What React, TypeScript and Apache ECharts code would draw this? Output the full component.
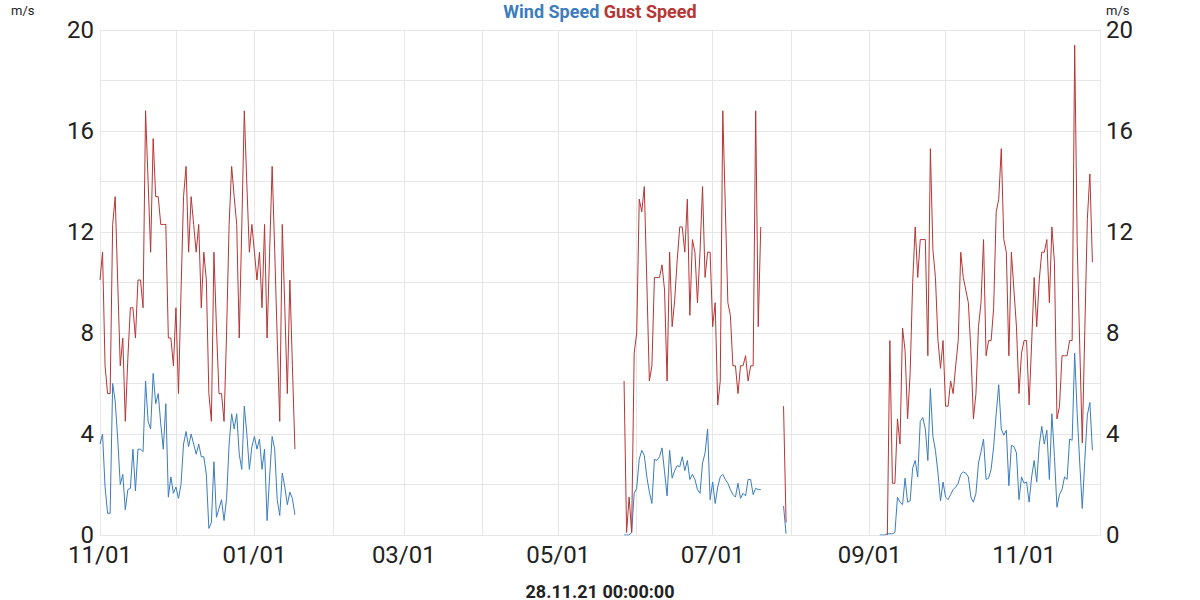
import { useEffect, useRef } from 'react';
import * as echarts from 'echarts';

const BLUE = '#3b7dbd';
const RED = '#b73535';
const GRID = '#e6e6e6';
const DAY = 86400000;

// segment 1 starts 01.11.2020
const seg1Start = [2020, 10, 1];
const wind1 = [
  3.6, 4.0, 1.9, 0.86, 0.86, 6.0, 5.3, 3.8, 2.0, 2.4,
  1.0, 1.8, 1.85, 3.4, 1.75, 3.4, 3.4, 3.3, 6.1, 4.5,
  4.2, 6.4, 5.2, 5.6, 4.4, 3.4, 5.2, 1.5, 2.3, 1.65,
  1.9, 1.45, 2.0, 3.6, 4.1, 3.5, 4.0, 3.6, 3.2, 3.6,
  3.1, 3.1, 2.4, 0.26, 0.5, 2.9, 0.7, 1.05, 1.4, 0.57,
  1.45, 3.6, 4.8, 4.2, 4.8, 3.2, 2.6, 5.1, 4.0, 2.6,
  3.5, 3.9, 3.4, 3.8, 2.6, 3.4, 0.57, 2.3, 3.9, 3.4,
  1.4, 0.77, 2.45, 1.9, 1.2, 1.7, 1.45, 0.8,
];
const gust1 = [
  10.1, 11.2, 6.7, 5.6, 5.6, 12.3, 13.4, 10.0, 6.7, 7.8,
  4.5, 7.0, 9.0, 9.0, 7.8, 10.1, 10.1, 9.0, 16.8, 14.0,
  11.2, 15.7, 13.4, 13.4, 12.3, 12.3, 12.3, 7.8, 7.8, 6.7,
  9.0, 5.6, 9.6, 13.4, 14.6, 11.2, 13.4, 12.3, 11.2, 12.3,
  9.0, 11.2, 10.1, 5.6, 4.5, 11.2, 8.2, 5.6, 5.6, 4.5,
  8.0, 12.3, 14.6, 13.4, 12.3, 7.8, 12.2, 16.8, 13.9, 11.2,
  12.3, 11.2, 10.1, 11.2, 9.0, 12.3, 7.8, 11.2, 14.6, 11.3,
  7.8, 4.5, 12.3, 9.0, 5.6, 10.1, 6.7, 3.4,
];

// segment 2 starts 27.05.2021
const seg2Start = [2021, 4, 27];
const wind2 = [
  0, 0, 0, 0.1, 1.65, 1.85, 3.0, 3.35, 3.15, 2.3,
  1.7, 1.25, 3.0, 2.95, 3.1, 3.45, 2.5, 1.55, 3.35, 2.25,
  2.55, 2.75, 2.7, 3.1, 2.55, 2.95, 2.2, 2.4, 2.2, 1.8,
  1.65, 2.85, 3.25, 4.2, 1.4, 2.1, 1.25, 1.9, 2.3, 2.4,
  2.2, 2.05, 1.8, 1.6, 1.5, 2.05, 1.45, 1.65, 1.55, 2.2,
  2.2, 1.6, 1.85, 1.8, 1.8,
  null, null, null, null, null, null, null, null,
  1.15, 0.05,
];
const gust2 = [
  6.1, 0.1, 1.5, 0.1, 7.2, 8.0, 13.3, 12.8, 13.8, 10.0,
  6.1, 6.7, 10.2, 10.2, 10.2, 10.7, 9.7, 6.1, 11.2, 8.25,
  9.3, 10.9, 12.2, 12.2, 11.2, 13.3, 8.7, 11.7, 11.2, 9.2,
  11.2, 13.8, 10.2, 11.2, 11.2, 8.25, 9.2, 5.15, 6.1, 16.8,
  13.0, 9.2, 8.7, 6.7, 6.7, 5.6, 6.7, 6.7, 7.1, 6.1,
  6.7, 6.7, 16.8, 8.25, 12.2,
  null, null, null, null, null, null, null, null,
  5.1, 0.5,
];

// segment 3 starts 05.09.2021
const seg3Start = [2021, 8, 5];
const wind3 = [
  0, 0, 0, 0.05, 0.05, 0.05, 0.1, 1.5, 1.3, 1.2,
  2.25, 1.3, 1.35, 2.65, 2.95, 2.3, 4.5, 4.65, 4.2, 2.95,
  5.8, 3.9, 3.35, 2.45, 1.35, 2.1, 1.5, 1.4, 1.6, 1.8,
  1.9, 2.05, 2.4, 2.5, 2.45, 2.3, 1.5, 1.3, 1.65, 2.85,
  3.3, 3.8, 2.2, 2.25, 2.6, 3.5, 4.8, 5.95, 4.2, 3.95,
  4.15, 1.95, 3.55, 3.5, 3.25, 1.4, 2.3, 2.05, 2.1, 1.3,
  2.3, 2.95, 2.1, 3.55, 4.3, 3.6, 4.15, 2.2, 4.8, 3.1,
  1.1, 1.6, 1.8, 2.3, 2.2, 3.8, 3.75, 7.2, 4.8, 2.85,
  1.05, 2.95, 4.75, 5.25, 3.35,
];
const gust3 = [
  null, null, null, 0, 7.7, 2.05, 2.05, 4.6, 3.6, 8.2,
  7.3, 4.6, 6.4, 10.0, 12.2, 10.2, 11.7, 11.7, 11.7, 7.1,
  15.3, 11.3, 10.2, 7.7, 6.6, 7.7, 5.1, 5.1, 6.1, 5.6,
  6.7, 7.7, 11.2, 10.2, 9.7, 9.2, 7.3, 4.6, 5.6, 8.25,
  9.2, 11.7, 7.1, 7.7, 7.7, 9.0, 12.8, 13.3, 15.3, 11.7,
  11.2, 7.1, 11.2, 9.7, 8.25, 5.6, 7.2, 7.7, 7.7, 5.15,
  7.6, 10.2, 8.25, 10.1, 11.2, 11.2, 11.7, 9.2, 12.2, 10.8,
  4.6, 5.1, 7.1, 7.1, 7.1, 7.7, 7.7, 19.4, 11.5, 7.5,
  3.65, 8.1, 12.5, 14.3, 10.8,
];

const yTicks = [0, 4, 8, 12, 16, 20];

function segment(start: number[], values: (number | null)[]) {
  const pts: [number, number | string][] = values.map((v, i) => [
    new Date(start[0], start[1], start[2] + i).getTime(),
    v === null ? '-' : v,
  ]);
  // break the line after the segment
  pts.push([new Date(start[0], start[1], start[2] + values.length).getTime(), '-']);
  return pts;
}

const pad = (n: number) => (n < 10 ? '0' + n : String(n));

export default function App() {
  const chartRef = useRef<HTMLDivElement>(null);

  useEffect(() => {
    if (!chartRef.current) {
      return;
    }
    const chart = echarts.init(chartRef.current, null, { renderer: 'svg' });

    const windData = [
      ...segment(seg1Start, wind1),
      ...segment(seg2Start, wind2),
      ...segment(seg3Start, wind3),
    ];
    const gustData = [
      ...segment(seg1Start, gust1),
      ...segment(seg2Start, gust2),
      ...segment(seg3Start, gust3),
    ];

    const yLabel = {
      fontSize: 24,
      color: '#222',
      fontFamily: 'Roboto',
      margin: 6,
      formatter: (v: number) => (yTicks.includes(v) ? String(v) : ''),
    };

    chart.setOption({
      animation: false,
      textStyle: { fontFamily: 'Roboto' },
      title: [
        {
          text: '{a|Wind Speed} {b|Gust Speed}',
          left: 'center',
          top: 2,
          padding: 0,
          textStyle: {
            rich: {
              a: { color: BLUE, fontWeight: 'bold', fontSize: 18, fontFamily: 'Roboto' },
              b: { color: RED, fontWeight: 'bold', fontSize: 18, fontFamily: 'Roboto' },
            },
          },
        },
        {
          text: '28.11.21 00:00:00',
          left: 'center',
          top: 582,
          padding: 0,
          textStyle: { color: '#222', fontWeight: 'bold', fontSize: 18, fontFamily: 'Roboto' },
        },
      ],
      graphic: [
        {
          type: 'text',
          left: 11,
          top: 4,
          style: { text: 'm/s', fontSize: 13, fill: '#222', fontFamily: 'Roboto' },
        },
        {
          type: 'text',
          left: 1106,
          top: 4,
          style: { text: 'm/s', fontSize: 13, fill: '#222', fontFamily: 'Roboto' },
        },
      ],
      grid: { left: 100, right: 100, top: 30, bottom: 65, containLabel: false },
      xAxis: {
        type: 'time',
        min: new Date(2020, 10, 1).getTime(),
        max: new Date(2021, 11, 1).getTime(),
        splitNumber: 13,
        minInterval: 28 * DAY,
        maxInterval: 31 * DAY,
        axisLine: { show: true, lineStyle: { color: GRID } },
        axisTick: { show: false },
        splitLine: { show: true, lineStyle: { color: GRID } },
        axisLabel: {
          fontSize: 24,
          color: '#222',
          fontFamily: 'Roboto',
          margin: 8,
          hideOverlap: false,
          showMinLabel: true,
          formatter: (v: number) => {
            const d = new Date(v);
            if (d.getDate() !== 1 || d.getMonth() % 2 !== 0) {
              return '';
            }
            return pad(d.getMonth() + 1) + '/01';
          },
        },
      },
      yAxis: [
        {
          type: 'value',
          position: 'left',
          min: 0,
          max: 20,
          interval: 2,
          axisLine: { show: true, lineStyle: { color: GRID } },
          axisTick: { show: false },
          splitLine: { show: true, lineStyle: { color: GRID } },
          axisLabel: yLabel,
        },
        {
          type: 'value',
          position: 'right',
          min: 0,
          max: 20,
          interval: 2,
          axisLine: { show: true, lineStyle: { color: GRID } },
          axisTick: { show: false },
          splitLine: { show: false },
          axisLabel: yLabel,
        },
      ],
      series: [
        {
          name: 'Wind Speed',
          type: 'line',
          data: windData,
          showSymbol: false,
          connectNulls: false,
          lineStyle: { width: 1, color: BLUE },
          itemStyle: { color: BLUE },
        },
        {
          name: 'Gust Speed',
          type: 'line',
          data: gustData,
          showSymbol: false,
          connectNulls: false,
          lineStyle: { width: 1, color: RED },
          itemStyle: { color: RED },
        },
      ],
    });

    return () => {
      chart.dispose();
    };
  }, []);

  return (
    <div
      ref={chartRef}
      style={{ position: 'absolute', left: 0, top: 0, width: '1200px', height: '600px', background: '#fff' }}
    />
  );
}
